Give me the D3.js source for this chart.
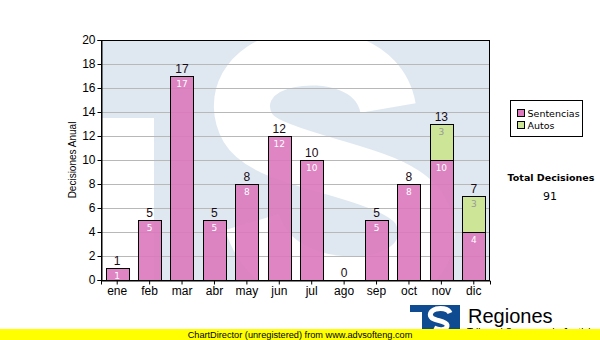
<!DOCTYPE html>
<html>
<head>
<meta charset="utf-8">
<script src="https://cdn.jsdelivr.net/npm/d3@7"></script>
<style>
  html, body { margin: 0; padding: 0; background: #fff; }
  svg { display: block; }
</style>
</head>
<body>
<svg id="chart" width="600" height="340"></svg>
<script>
// Monthly decisions, split by type
const months = ["ene", "feb", "mar", "abr", "may", "jun", "jul", "ago", "sep", "oct", "nov", "dic"];
const sentencias = [1, 5, 17, 5, 8, 12, 10, 0, 5, 8, 10, 4];
const autos = [0, 0, 0, 0, 0, 0, 0, 0, 0, 0, 3, 3];
const seriesNames = ["Sentencias", "Autos"];
const yTicks = [0, 2, 4, 6, 8, 10, 12, 14, 16, 18, 20];
const totalTitle = "Total Decisiones";

const colors = { Sentencias: "#dc78bc", Autos: "#cde597" };
const labelColors = { Sentencias: "#ffffff", Autos: "#9a9a9a" };

const svg = d3.select("#chart");
const plot = { left: 101, right: 490, top: 40, bottom: 280 };

const x = d3.scaleBand().domain(months).range([plot.left, plot.right]).paddingInner(0.28).paddingOuter(0.14);
const y = d3.scaleLinear().domain([0, 20]).range([plot.bottom, plot.top]);

const rows = months.map((m, i) => ({ month: m, Sentencias: sentencias[i], Autos: autos[i] }));
const stacked = d3.stack().keys(seriesNames)(rows);

// Plot background with the institutional watermark
svg.append("clipPath").attr("id", "plotClip")
  .append("rect").attr("x", plot.left).attr("y", plot.top)
  .attr("width", plot.right - plot.left).attr("height", plot.bottom - plot.top);

const bg = svg.append("g").attr("clip-path", "url(#plotClip)");
bg.append("rect").attr("x", plot.left).attr("y", plot.top)
  .attr("width", plot.right - plot.left).attr("height", plot.bottom - plot.top)
  .attr("fill", "#dfe8f1");
bg.append("rect").attr("x", plot.left).attr("y", 118)
  .attr("width", 53).attr("height", plot.bottom - 118).attr("fill", "#ffffff");
bg.append("path")
  .attr("d", "M 388,108 C 380,62 325,52 288,60 C 248,68 232,100 248,128 C 270,165 395,168 420,210 C 442,250 405,290 340,284 C 292,280 262,255 252,222")
  .attr("fill", "none").attr("stroke", "#ffffff").attr("stroke-width", 56);

// Gridlines
svg.append("g")
  .selectAll("line").data(yTicks.filter(t => t > 0 && t < 20)).join("line")
  .attr("x1", plot.left).attr("x2", plot.right)
  .attr("y1", d => y(d) + 0.5).attr("y2", d => y(d) + 0.5)
  .attr("stroke", "#b8b8b8").attr("stroke-width", 1);

// Bars
const barG = svg.append("g");
stacked.forEach(layer => {
  const key = layer.key;
  barG.append("g").selectAll("rect")
    .data(layer.filter(d => d[1] - d[0] > 0)).join("rect")
    .attr("x", d => Math.round(x(d.data.month)) + 0.5)
    .attr("y", d => Math.round(y(d[1])) + 0.5)
    .attr("width", Math.round(x.bandwidth()))
    .attr("height", d => Math.round(y(d[0])) - Math.round(y(d[1])))
    .attr("fill", colors[key]).attr("fill-opacity", key === "Sentencias" ? 0.9 : 1)
    .attr("stroke", "#000").attr("stroke-width", 1);

  barG.append("g").selectAll("text")
    .data(layer.filter(d => d[1] - d[0] > 0)).join("text")
    .attr("x", d => x(d.data.month) + x.bandwidth() / 2)
    .attr("y", d => y(d[1]) + 11)
    .attr("text-anchor", "middle")
    .attr("font-family", "DejaVu Sans, Verdana, sans-serif")
    .attr("font-size", 9)
    .attr("fill", labelColors[key])
    .text(d => d[1] - d[0]);
});

// Totals above bars
barG.append("g").selectAll("text")
  .data(rows).join("text")
  .attr("x", d => x(d.month) + x.bandwidth() / 2)
  .attr("y", d => y(d.Sentencias + d.Autos) - 3)
  .attr("text-anchor", "middle")
  .attr("font-family", "Liberation Sans, Arial, sans-serif")
  .attr("font-size", 12)
  .attr("fill", "#1a0a14")
  .text(d => d.Sentencias + d.Autos);

// Plot frame
svg.append("rect").attr("x", plot.left + 0.5).attr("y", plot.top + 0.5)
  .attr("width", plot.right - plot.left - 1).attr("height", plot.bottom - plot.top)
  .attr("fill", "none").attr("stroke", "#000");

// Axes
const yAxis = svg.append("g").attr("transform", `translate(${plot.left + 0.5},0)`)
  .call(d3.axisLeft(y).tickValues(yTicks).tickSize(4).tickPadding(2));
const xAxis = svg.append("g").attr("transform", `translate(0,${plot.bottom + 0.5})`)
  .call(d3.axisBottom(x).tickSize(4).tickPadding(2));
[yAxis, xAxis].forEach(a => {
  a.select(".domain").attr("stroke", "#000");
  a.selectAll(".tick line").attr("stroke", "#000");
  a.selectAll(".tick text").attr("font-family", "Liberation Sans, Arial, sans-serif")
    .attr("font-size", 12).attr("fill", "#000");
});

svg.append("text")
  .attr("transform", `translate(76,${(plot.top + plot.bottom) / 2}) rotate(-90)`)
  .attr("text-anchor", "middle")
  .attr("font-family", "Liberation Sans, Arial, sans-serif")
  .attr("font-size", 10)
  .text("Decisiones Anual");

// Legend
const legend = svg.append("g").attr("transform", "translate(510.5,100.5)");
legend.append("rect").attr("width", 72).attr("height", 36)
  .attr("fill", "#fff").attr("stroke", "#000");
seriesNames.forEach((name, i) => {
  legend.append("rect").attr("x", 7).attr("y", 9 + i * 12)
    .attr("width", 7).attr("height", 7)
    .attr("fill", colors[name]).attr("stroke", "#000");
  legend.append("text").attr("x", 17).attr("y", 16.5 + i * 12)
    .attr("font-family", "DejaVu Sans, Verdana, sans-serif")
    .attr("font-size", 9.5).text(name);
});

// Yearly total
const grandTotal = d3.sum(sentencias) + d3.sum(autos);
svg.append("text").attr("x", 551).attr("y", 181).attr("text-anchor", "middle")
  .attr("font-family", "DejaVu Sans, Verdana, sans-serif").attr("font-weight", "bold")
  .attr("font-size", 9.5).text(totalTitle);
svg.append("text").attr("x", 550).attr("y", 200).attr("text-anchor", "middle")
  .attr("font-family", "DejaVu Sans, Verdana, sans-serif")
  .attr("font-size", 11).text(grandTotal);

// Footer logo
const logo = svg.append("g").attr("transform", "translate(410,305)");
logo.append("rect").attr("width", 50).attr("height", 30).attr("fill", "#0e4b90");
logo.append("rect").attr("x", 0).attr("y", 7).attr("width", 12).attr("height", 25).attr("fill", "#fff");
logo.append("path")
  .attr("d", "M 40,8 C 38,3 30,3 26,4 C 20,6 19,10 22,13 C 26,16 36,16 37,20 C 38,25 30,26 24,23")
  .attr("fill", "none").attr("stroke", "#fff").attr("stroke-width", 5);
svg.append("text").attr("x", 468).attr("y", 323)
  .attr("font-family", "Liberation Sans, Arial, sans-serif")
  .attr("font-size", 20).text("Regiones");
svg.append("text").attr("x", 467).attr("y", 336)
  .attr("font-family", "Liberation Sans, Arial, sans-serif")
  .attr("font-size", 10).text("Tribunal Supremo de Justicia");

// Footer band
svg.append("rect").attr("x", 0).attr("y", 329).attr("width", 600).attr("height", 11).attr("fill", "#ffff00");
svg.append("text").attr("x", 300).attr("y", 337.5).attr("text-anchor", "middle")
  .attr("font-family", "Liberation Sans, Arial, sans-serif")
  .attr("font-size", 9.2).attr("fill", "#000")
  .text("ChartDirector (unregistered) from www.advsofteng.com");
</script>
</body>
</html>
